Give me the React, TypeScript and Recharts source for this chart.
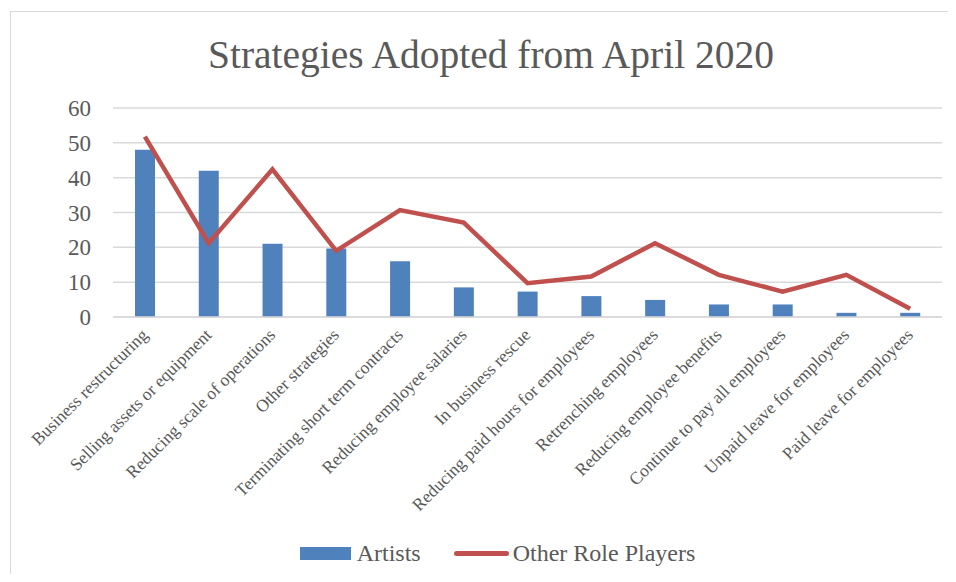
import React from 'react'
import {
  ComposedChart,
  Bar,
  Line,
  XAxis,
  YAxis,
  CartesianGrid,
  Legend,
} from 'recharts'

const categories = [
  'Business restructuring',
  'Selling assets or equipment',
  'Reducing scale of operations',
  'Other strategies',
  'Terminating short term contracts',
  'Reducing employee salaries',
  'In business rescue',
  'Reducing paid hours for employees',
  'Retrenching employees',
  'Reducing employee benefits',
  'Continue to pay all employees',
  'Unpaid leave for employees',
  'Paid leave for employees',
]

const artists = [48, 42, 21, 19.7, 16, 8.5, 7.3, 6, 4.9, 3.6, 3.6, 1.2, 1.2]
const otherRolePlayers = [51.8, 21.2, 42.4, 19, 30.7, 27.1, 9.7, 11.6, 21.2, 12.1, 7.3, 12.1, 2.4]
const yTicks = [0, 10, 20, 30, 40, 50, 60]

const chartData = categories.map((name, i) => ({
  name,
  artists: artists[i],
  others: otherRolePlayers[i],
}))

const FONT = '"Liberation Serif", serif'
const TEXT = '#595959'
const BLUE = '#4F81BD'
const RED = '#C0504D'

function CategoryTick({ x, y, payload }: any) {
  const tx = x + 4
  const ty = y + 11
  return (
    <text
      x={tx}
      y={ty}
      transform={`rotate(-45, ${tx}, ${ty})`}
      textAnchor="end"
      fill={TEXT}
      fontSize={17.5}
      fontFamily={FONT}
    >
      {payload.value}
    </text>
  )
}

function renderLegend() {
  return (
    <div
      style={{
        display: 'flex',
        justifyContent: 'center',
        alignItems: 'center',
        fontFamily: FONT,
        fontSize: 24,
        color: TEXT,
        paddingLeft: 40,
        marginTop: 8,
      }}
    >
      <span style={{ display: 'inline-block', width: 51, height: 13, background: BLUE, marginRight: 6 }} />
      <span style={{ marginRight: 33 }}>Artists</span>
      <span style={{ display: 'inline-block', width: 55, height: 5, borderRadius: 3, background: RED, marginRight: 4 }} />
      <span>Other Role Players</span>
    </div>
  )
}

export default function App() {
  return (
    <div style={{ position: 'relative', width: 956, height: 582, margin: -8, background: '#fff', overflow: 'hidden' }}>
      <div
        style={{
          position: 'absolute',
          left: 10,
          top: 11,
          width: 960,
          height: 600,
          borderLeft: '1px solid #d9d9d9',
          borderTop: '1px solid #d9d9d9',
        }}
      />
      <div
        style={{
          position: 'absolute',
          top: 32,
          left: 0,
          width: 982,
          textAlign: 'center',
          fontFamily: FONT,
          fontSize: 39.5,
          color: TEXT,
        }}
      >
        Strategies Adopted from April 2020
      </div>
      <ComposedChart
        width={956}
        height={582}
        data={chartData}
        margin={{ top: 108, right: 14, bottom: 0, left: 13 }}
        style={{ position: 'absolute', top: 0, left: 0 }}
      >
        <CartesianGrid vertical={false} stroke="#d9d9d9" strokeWidth={1.5} />
        <XAxis
          dataKey="name"
          interval={0}
          height={215}
          tick={<CategoryTick />}
          tickLine={false}
          axisLine={{ stroke: '#d9d9d9', strokeWidth: 1.5 }}
        />
        <YAxis
          width={100}
          domain={[0, 60]}
          ticks={yTicks}
          tickLine={false}
          axisLine={false}
          tickMargin={16}
          tick={{ fill: TEXT, fontSize: 23, fontFamily: FONT }}
        />
        <Legend verticalAlign="bottom" height={50} content={renderLegend} />
        <Bar dataKey="artists" name="Artists" fill={BLUE} barSize={20} isAnimationActive={false} />
        <Line
          dataKey="others"
          name="Other Role Players"
          stroke={RED}
          strokeWidth={4.5}
          dot={false}
          type="linear"
          isAnimationActive={false}
        />
      </ComposedChart>
    </div>
  )
}
